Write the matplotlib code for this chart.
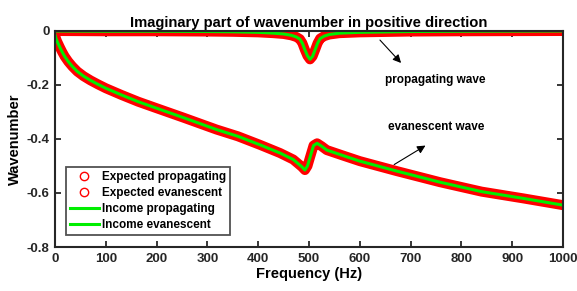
import matplotlib
matplotlib.use('Agg')
import matplotlib.pyplot as plt
from matplotlib.lines import Line2D

plt.rcParams['font.family'] = ['Liberation Sans', 'DejaVu Sans']
plt.rcParams['font.weight'] = 'bold'

# values
freq_prop = [0, 100, 200, 300, 350, 400, 430, 450, 465, 475, 482, 487, 492,
             497, 502, 507, 512, 517, 522, 530, 540, 560, 600, 700, 800, 1000]
k_prop = [0, -0.001, -0.001, -0.002, -0.003, -0.005, -0.008, -0.011, -0.016,
          -0.022, -0.03, -0.045, -0.07, -0.092, -0.105, -0.094, -0.07, -0.045,
          -0.028, -0.019, -0.013, -0.008, -0.005, -0.002, -0.001, 0]

freq_evan = [0, 2, 4, 7, 10, 14, 19, 26, 34, 44, 56, 70, 85, 100, 131, 164,
             197, 253, 318, 360, 404, 443, 469, 486, 492, 497, 502, 509, 516,
             525, 535, 568, 600, 673, 758, 840, 922, 1000]
k_evan = [-0.015, -0.028, -0.038, -0.05, -0.062, -0.077, -0.094, -0.113,
          -0.131, -0.15, -0.167, -0.183, -0.198, -0.212, -0.237, -0.262,
          -0.284, -0.321, -0.365, -0.39, -0.422, -0.452, -0.476, -0.503,
          -0.515, -0.5, -0.468, -0.424, -0.416, -0.427, -0.441, -0.462,
          -0.482, -0.519, -0.56, -0.595, -0.62, -0.645]

legend_labels = ['Expected propagating', 'Expected evanescent',
                 'Income propagating', 'Income evanescent']

fig = plt.figure(figsize=(5.77, 2.91), dpi=100)
ax = fig.add_axes([0.0953, 0.1512, 0.8804, 0.7423])

# expected results: dense red circles, seen as a thick red band
for f, k in [(freq_prop, k_prop), (freq_evan, k_evan)]:
    ax.plot(f, k, color='red', lw=7.2, solid_capstyle='round',
            solid_joinstyle='round')
# income results: green line on top
for f, k in [(freq_prop, k_prop), (freq_evan, k_evan)]:
    ax.plot(f, k, color='#00ee00', lw=2.2, solid_joinstyle='round')

ax.set_xlim(0, 1000)
ax.set_ylim(-0.8, 0)
ax.set_xticks(range(0, 1001, 100))
ax.set_yticks([-0.8, -0.6, -0.4, -0.2, 0])
ax.set_yticklabels(['-0.8', '-0.6', '-0.4', '-0.2', '0'])
ax.tick_params(direction='in', length=4, width=1.3, top=True, right=True,
               labelsize=9.5, colors='#262626', pad=4)
for lab in ax.get_xticklabels() + ax.get_yticklabels():
    lab.set_fontweight('bold')
for s in ax.spines.values():
    s.set_linewidth(1.5)
    s.set_color('#262626')

ax.set_title('Imaginary part of wavenumber in positive direction',
             fontsize=10.6, fontweight='bold', pad=3)
ax.set_xlabel('Frequency (Hz)', fontsize=10.5, fontweight='bold', labelpad=2)
ax.set_ylabel('Wavenumber', fontsize=10.5, fontweight='bold', labelpad=3)

# annotations
ax.annotate('', xy=(685, -0.126), xytext=(636, -0.026),
            arrowprops=dict(arrowstyle='-|>', color='black', lw=0.8,
                            mutation_scale=12))
ax.text(748, -0.181, 'propagating wave', ha='center', va='center',
        fontsize=8.5, fontweight='bold')
ax.annotate('', xy=(734, -0.419), xytext=(663, -0.5),
            arrowprops=dict(arrowstyle='-|>', color='black', lw=0.8,
                            mutation_scale=12))
ax.text(750, -0.356, 'evanescent wave', ha='center', va='center',
        fontsize=8.5, fontweight='bold')

handles = [
    Line2D([], [], ls='none', marker='o', ms=6, mfc='none', mec='red', mew=1),
    Line2D([], [], ls='none', marker='o', ms=6, mfc='none', mec='red', mew=1),
    Line2D([], [], color='#00ee00', lw=2.2),
    Line2D([], [], color='#00ee00', lw=2.2),
]
leg = ax.legend(handles, legend_labels, loc='lower left',
                bbox_to_anchor=(0.022, 0.056), fontsize=8.5, frameon=True,
                fancybox=False, edgecolor='#262626', handlelength=2.4,
                handletextpad=0.3, labelspacing=0.32, borderpad=0.35,
                borderaxespad=0)
leg.get_frame().set_linewidth(1.3)
for t in leg.get_texts():
    t.set_fontweight('bold')

fig.savefig('out.png', dpi=100)
